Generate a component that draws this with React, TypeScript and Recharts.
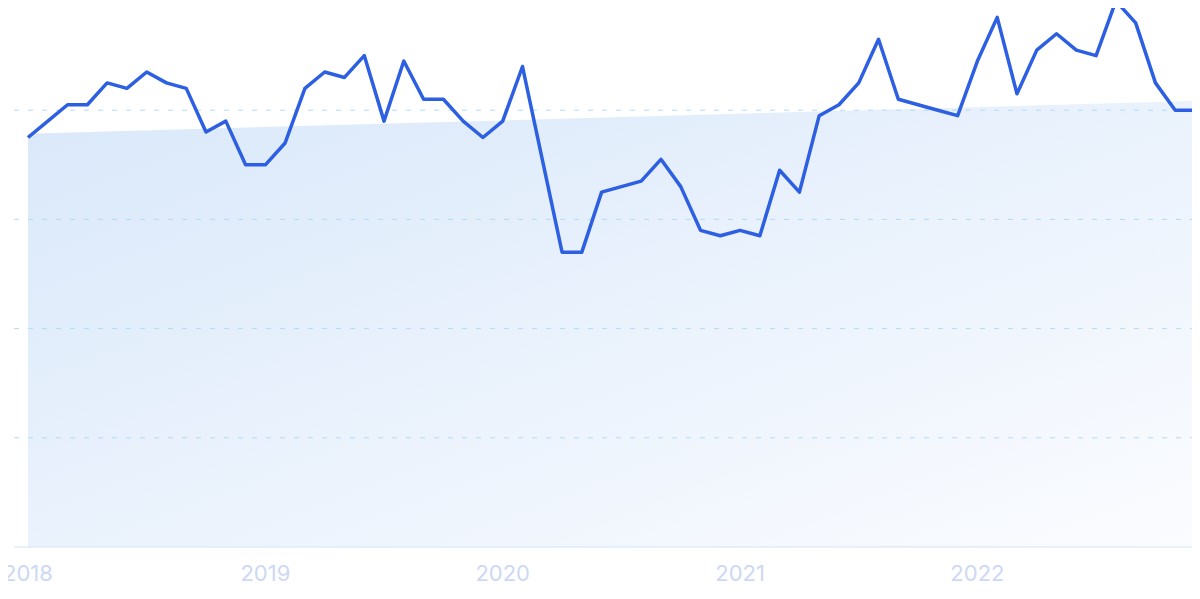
import { ComposedChart, Area, Line, XAxis, YAxis, ReferenceLine } from 'recharts'

// monthly values, Jan 2018 - Dec 2022
const months: string[] = []
for (let y = 2018; y <= 2022; y++) {
  for (let m = 1; m <= 12; m++) months.push(`${y}-${String(m).padStart(2, '0')}`)
}

const interest = [
  75, 78, 81, 81, 85, 84, 87, 85, 84, 76, 78, 70,
  70, 74, 84, 87, 86, 90, 78, 89, 82, 82, 78, 75,
  78, 88, 71, 54, 54, 65, 66, 67, 71, 66, 58, 57,
  58, 57, 69, 65, 79, 81, 85, 93, 82, 81, 80, 79,
  89, 97, 83, 91, 94, 91, 90, 100, 96, 85, 80, 80,
]

// trend line: only the two end values, joined straight
const trendStart = 75.7
const trendEnd = 81.7

const yearTicks = ['2018-01', '2019-01', '2020-01', '2021-01', '2022-01']
const gridValues = [20, 40, 60, 80, 100]

const data = months.map((month, i) => ({
  month,
  value: interest[i],
  trend: i === 0 ? trendStart : i === months.length - 1 ? trendEnd : null,
}))

export default function App() {
  return (
    <div style={{ margin: -8, width: 1200, height: 599, background: '#fff' }}>
      <ComposedChart width={1200} height={599} data={data} margin={{ top: 1, right: 5, left: 14, bottom: 22 }}>
        <defs>
          <linearGradient id="trendFill" x1="0" y1="0" x2="1" y2="1">
            <stop offset="0%" stopColor="#d9e8fa" />
            <stop offset="100%" stopColor="#fbfcff" />
          </linearGradient>
        </defs>
        <XAxis
          dataKey="month"
          ticks={yearTicks}
          tickFormatter={(v: string) => v.slice(0, 4)}
          interval={0}
          padding={{ left: 14, right: 0 }}
          axisLine={{ stroke: '#d6e2f7' }}
          tickLine={false}
          tickSize={0}
          tickMargin={18}
          tick={{ fontSize: 22, fill: '#cdd8f5', fontFamily: 'Inter' }}
        />
        <YAxis hide domain={[0, 100]} />
        <Area
          dataKey="trend"
          type="linear"
          connectNulls
          stroke="none"
          fill="url(#trendFill)"
          fillOpacity={1}
          isAnimationActive={false}
        />
        {gridValues.map(v => (
          <ReferenceLine
            key={v}
            y={v}
            stroke={v === 100 ? '#dde6f3' : '#b2dbf7'}
            strokeDasharray="5 9"
          />
        ))}
        <Line
          dataKey="value"
          type="linear"
          stroke="#2d5fe2"
          strokeWidth={3.5}
          dot={false}
          strokeLinejoin="round"
          isAnimationActive={false}
        />
      </ComposedChart>
    </div>
  )
}
